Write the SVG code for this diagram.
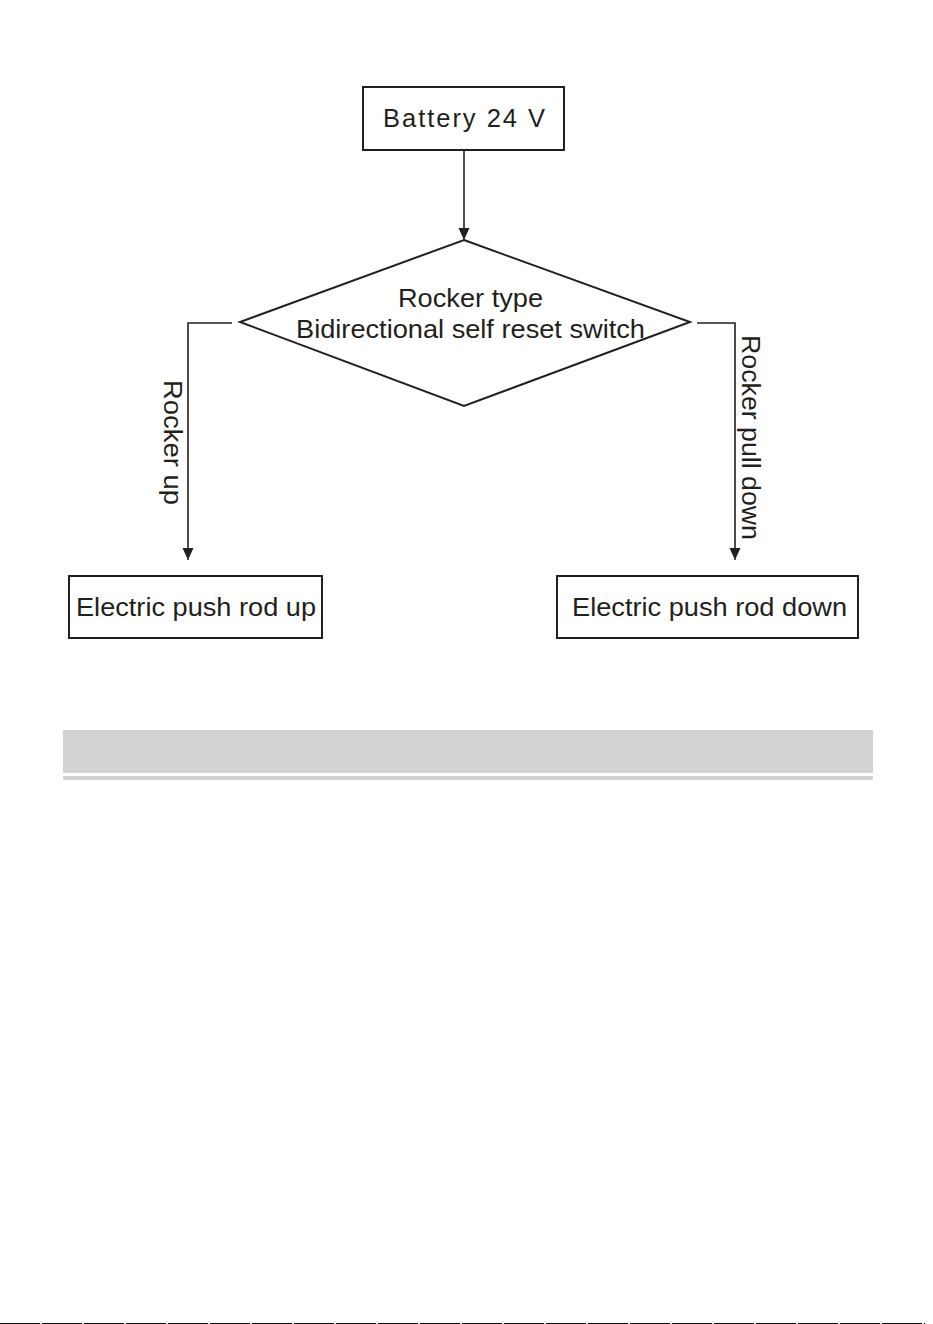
<svg xmlns="http://www.w3.org/2000/svg" width="933" height="1324" viewBox="0 0 933 1324">
<style>
.box{fill:#fff;stroke:#231f20;stroke-width:2}
.ln{fill:none;stroke:#231f20;stroke-width:1.6}
.t{font-family:"Liberation Sans",Arial,sans-serif;font-size:25.5px;fill:#231f20}
</style>
<defs>
<marker id="ah" viewBox="0 0 10 12" refX="12" refY="6" markerWidth="10" markerHeight="12" markerUnits="userSpaceOnUse" orient="auto">
<path d="M0,0.5 L12,6 L0,11.5 Z" fill="#231f20"/>
</marker>
</defs>
<rect width="933" height="1324" fill="#fff"/>
<g id="connectors">
<path class="ln" d="M232,323 H188 V560" marker-end="url(#ah)"/>
<path class="ln" d="M697,323 H735 V560" marker-end="url(#ah)"/>
<path class="ln" d="M464,151 V240" marker-end="url(#ah)"/>
<text class="t" transform="translate(164,380) rotate(90)" textLength="125" lengthAdjust="spacingAndGlyphs">Rocker up</text>
<text class="t" transform="translate(742,335) rotate(90)" textLength="205" lengthAdjust="spacingAndGlyphs">Rocker pull down</text>
</g>
<g id="battery">
<rect class="box" x="363" y="87" width="201" height="63"/>
<text class="t" x="383" y="127" font-size="28" textLength="162" lengthAdjust="spacing">Battery 24 V</text>
</g>
<g id="switch">
<polygon class="box" points="464,240 690,322 464,406 240,322"/>
<text class="t" x="398" y="307" textLength="145" lengthAdjust="spacingAndGlyphs">Rocker type</text>
<text class="t" x="296" y="338" textLength="349" lengthAdjust="spacingAndGlyphs">Bidirectional self reset switch</text>
</g>
<g id="rod-up">
<rect class="box" x="69" y="576" width="253" height="62"/>
<text class="t" x="76" y="616" textLength="240" lengthAdjust="spacingAndGlyphs">Electric push rod up</text>
</g>
<g id="rod-down">
<rect class="box" x="557" y="576" width="301" height="62"/>
<text class="t" x="572" y="616" textLength="275" lengthAdjust="spacingAndGlyphs">Electric push rod down</text>
</g>
<g id="band">
<rect x="63" y="730" width="810" height="43" fill="#d1d2d4"/>
<rect x="63" y="776" width="810" height="4" fill="#d1d2d4"/>
</g>
<line x1="0" y1="1323.5" x2="925" y2="1323.5" stroke="#111" stroke-width="1" stroke-dasharray="40,2"/>
</svg>
